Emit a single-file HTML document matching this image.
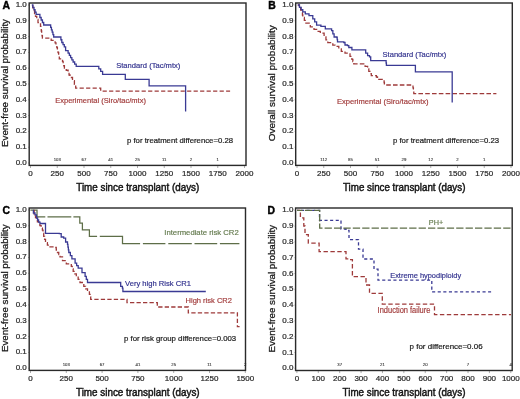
<!DOCTYPE html>
<html><head><meta charset="utf-8"><style>
html,body{margin:0;padding:0;background:#fff;}
body{width:520px;height:399px;overflow:hidden;}
svg{display:block;will-change:transform;font-family:"Liberation Sans", sans-serif;}
</style></head><body>
<svg width="520" height="399" viewBox="0 0 520 399">
<rect width="520" height="399" fill="#fff"/>
<text x="2.60" y="8.80" font-size="10.40" fill="#000" text-anchor="start" font-weight="bold" stroke="#000" stroke-width="0.40">A</text>
<text x="26.80" y="165.00" font-size="8.00" fill="#2a2a2a" text-anchor="end" font-weight="normal" stroke="#2a2a2a" stroke-width="0.22">0.0</text>
<line x1="28.00" y1="163.00" x2="29.20" y2="163.00" stroke="#999" stroke-width="0.7"/>
<text x="26.80" y="149.20" font-size="8.00" fill="#2a2a2a" text-anchor="end" font-weight="normal" stroke="#2a2a2a" stroke-width="0.22">0.1</text>
<line x1="28.00" y1="147.20" x2="29.20" y2="147.20" stroke="#999" stroke-width="0.7"/>
<text x="26.80" y="133.40" font-size="8.00" fill="#2a2a2a" text-anchor="end" font-weight="normal" stroke="#2a2a2a" stroke-width="0.22">0.2</text>
<line x1="28.00" y1="131.40" x2="29.20" y2="131.40" stroke="#999" stroke-width="0.7"/>
<text x="26.80" y="117.60" font-size="8.00" fill="#2a2a2a" text-anchor="end" font-weight="normal" stroke="#2a2a2a" stroke-width="0.22">0.3</text>
<line x1="28.00" y1="115.60" x2="29.20" y2="115.60" stroke="#999" stroke-width="0.7"/>
<text x="26.80" y="101.80" font-size="8.00" fill="#2a2a2a" text-anchor="end" font-weight="normal" stroke="#2a2a2a" stroke-width="0.22">0.4</text>
<line x1="28.00" y1="99.80" x2="29.20" y2="99.80" stroke="#999" stroke-width="0.7"/>
<text x="26.80" y="86.00" font-size="8.00" fill="#2a2a2a" text-anchor="end" font-weight="normal" stroke="#2a2a2a" stroke-width="0.22">0.5</text>
<line x1="28.00" y1="84.00" x2="29.20" y2="84.00" stroke="#999" stroke-width="0.7"/>
<text x="26.80" y="70.20" font-size="8.00" fill="#2a2a2a" text-anchor="end" font-weight="normal" stroke="#2a2a2a" stroke-width="0.22">0.6</text>
<line x1="28.00" y1="68.20" x2="29.20" y2="68.20" stroke="#999" stroke-width="0.7"/>
<text x="26.80" y="54.40" font-size="8.00" fill="#2a2a2a" text-anchor="end" font-weight="normal" stroke="#2a2a2a" stroke-width="0.22">0.7</text>
<line x1="28.00" y1="52.40" x2="29.20" y2="52.40" stroke="#999" stroke-width="0.7"/>
<text x="26.80" y="38.60" font-size="8.00" fill="#2a2a2a" text-anchor="end" font-weight="normal" stroke="#2a2a2a" stroke-width="0.22">0.8</text>
<line x1="28.00" y1="36.60" x2="29.20" y2="36.60" stroke="#999" stroke-width="0.7"/>
<text x="26.80" y="22.80" font-size="8.00" fill="#2a2a2a" text-anchor="end" font-weight="normal" stroke="#2a2a2a" stroke-width="0.22">0.9</text>
<line x1="28.00" y1="20.80" x2="29.20" y2="20.80" stroke="#999" stroke-width="0.7"/>
<text x="26.80" y="7.00" font-size="8.00" fill="#2a2a2a" text-anchor="end" font-weight="normal" stroke="#2a2a2a" stroke-width="0.22">1.0</text>
<line x1="28.00" y1="5.00" x2="29.20" y2="5.00" stroke="#999" stroke-width="0.7"/>
<text x="30.50" y="176.40" font-size="8.00" fill="#2a2a2a" text-anchor="middle" font-weight="normal" stroke="#2a2a2a" stroke-width="0.22">0</text>
<line x1="30.50" y1="165.40" x2="30.50" y2="168.00" stroke="#888" stroke-width="0.7"/>
<text x="57.25" y="176.40" font-size="8.00" fill="#2a2a2a" text-anchor="middle" font-weight="normal" stroke="#2a2a2a" stroke-width="0.22">250</text>
<line x1="57.25" y1="165.40" x2="57.25" y2="168.00" stroke="#888" stroke-width="0.7"/>
<text x="84.00" y="176.40" font-size="8.00" fill="#2a2a2a" text-anchor="middle" font-weight="normal" stroke="#2a2a2a" stroke-width="0.22">500</text>
<line x1="84.00" y1="165.40" x2="84.00" y2="168.00" stroke="#888" stroke-width="0.7"/>
<text x="110.75" y="176.40" font-size="8.00" fill="#2a2a2a" text-anchor="middle" font-weight="normal" stroke="#2a2a2a" stroke-width="0.22">750</text>
<line x1="110.75" y1="165.40" x2="110.75" y2="168.00" stroke="#888" stroke-width="0.7"/>
<text x="137.50" y="176.40" font-size="8.00" fill="#2a2a2a" text-anchor="middle" font-weight="normal" stroke="#2a2a2a" stroke-width="0.22">1000</text>
<line x1="137.50" y1="165.40" x2="137.50" y2="168.00" stroke="#888" stroke-width="0.7"/>
<text x="164.25" y="176.40" font-size="8.00" fill="#2a2a2a" text-anchor="middle" font-weight="normal" stroke="#2a2a2a" stroke-width="0.22">1250</text>
<line x1="164.25" y1="165.40" x2="164.25" y2="168.00" stroke="#888" stroke-width="0.7"/>
<text x="191.00" y="176.40" font-size="8.00" fill="#2a2a2a" text-anchor="middle" font-weight="normal" stroke="#2a2a2a" stroke-width="0.22">1500</text>
<line x1="191.00" y1="165.40" x2="191.00" y2="168.00" stroke="#888" stroke-width="0.7"/>
<text x="217.75" y="176.40" font-size="8.00" fill="#2a2a2a" text-anchor="middle" font-weight="normal" stroke="#2a2a2a" stroke-width="0.22">1750</text>
<line x1="217.75" y1="165.40" x2="217.75" y2="168.00" stroke="#888" stroke-width="0.7"/>
<text x="244.50" y="176.40" font-size="8.00" fill="#2a2a2a" text-anchor="middle" font-weight="normal" stroke="#2a2a2a" stroke-width="0.22">2000</text>
<line x1="244.50" y1="165.40" x2="244.50" y2="168.00" stroke="#888" stroke-width="0.7"/>
<text x="57.25" y="160.50" font-size="4.30" fill="#3a3a3a" text-anchor="middle" font-weight="normal" stroke="#3a3a3a" stroke-width="0.12">103</text>
<text x="84.00" y="160.50" font-size="4.30" fill="#3a3a3a" text-anchor="middle" font-weight="normal" stroke="#3a3a3a" stroke-width="0.12">67</text>
<text x="110.75" y="160.50" font-size="4.30" fill="#3a3a3a" text-anchor="middle" font-weight="normal" stroke="#3a3a3a" stroke-width="0.12">41</text>
<text x="137.50" y="160.50" font-size="4.30" fill="#3a3a3a" text-anchor="middle" font-weight="normal" stroke="#3a3a3a" stroke-width="0.12">25</text>
<text x="164.25" y="160.50" font-size="4.30" fill="#3a3a3a" text-anchor="middle" font-weight="normal" stroke="#3a3a3a" stroke-width="0.12">11</text>
<text x="191.00" y="160.50" font-size="4.30" fill="#3a3a3a" text-anchor="middle" font-weight="normal" stroke="#3a3a3a" stroke-width="0.12">2</text>
<text x="217.75" y="160.50" font-size="4.30" fill="#3a3a3a" text-anchor="middle" font-weight="normal" stroke="#3a3a3a" stroke-width="0.12">1</text>
<path d="M31.80 5.00L32.73 5.00L32.73 7.83L33.65 7.83L33.65 10.65L34.58 10.65L34.58 13.48L35.50 13.48L35.50 16.30L36.75 16.30L36.75 19.45L38.00 19.45L38.00 22.60L40.50 22.60L40.50 26.30L40.88 26.30L40.88 28.66L41.26 28.66L41.26 31.02L41.64 31.02L41.64 33.38L42.02 33.38L42.02 35.74L42.40 35.74L42.40 38.10L50.00 38.10L51.20 38.10L51.20 40.30L54.30 40.30L54.30 40.70L55.13 40.70L55.13 42.97L55.97 42.97L55.97 45.23L56.80 45.23L56.80 47.50L57.40 47.50L57.40 50.00L58.00 50.00L58.00 52.50L58.65 52.50L58.65 55.65L59.30 55.65L59.30 58.80L62.50 58.80L62.50 61.30L63.13 61.30L63.13 63.53L63.77 63.53L63.77 65.77L64.40 65.77L64.40 68.00L66.25 68.00L66.25 70.25L68.10 70.25L68.10 72.50L69.05 72.50L69.05 75.00L70.00 75.00L70.00 77.50L72.50 77.50L72.50 80.70L74.40 80.70L74.40 84.40L75.70 84.40L75.70 88.20L98.80 88.20L100.70 88.20L100.70 91.20L230.10 91.20" fill="none" stroke="#9e3a3a" stroke-width="1.30" stroke-dasharray="4.2 2.3" stroke-dashoffset="5.50"/>
<path d="M31.80 5.00L32.88 5.00L32.88 7.35L33.95 7.35L33.95 9.70L35.02 9.70L35.02 12.05L36.10 12.05L36.10 14.40L39.90 14.40L39.90 17.50L41.17 17.50L41.17 20.00L42.43 20.00L42.43 22.50L43.70 22.50L43.70 25.00L49.90 25.00L50.66 25.00L50.66 27.40L51.42 27.40L51.42 29.80L52.18 29.80L52.18 32.20L52.94 32.20L52.94 34.60L53.70 34.60L53.70 37.00L60.00 37.00L60.90 37.00L60.90 39.75L61.80 39.75L61.80 42.50L63.05 42.50L63.05 44.70L64.30 44.70L64.30 46.90L65.60 46.90L65.60 50.70L68.10 50.70L68.10 53.20L69.35 53.20L69.35 55.40L70.60 55.40L70.60 57.60L71.85 57.60L71.85 59.80L73.10 59.80L73.10 62.00L74.65 62.00L74.65 64.15L76.20 64.15L76.20 66.30L97.60 66.30L98.80 66.30L98.80 68.80L100.70 68.80L100.70 71.30L102.60 71.30L102.60 74.40L125.30 74.40L125.30 79.40L149.10 79.40L149.10 85.80L185.60 85.80L185.60 111.40" fill="none" stroke="#3a3a94" stroke-width="1.30"/>
<rect x="29.20" y="3.00" width="216.80" height="162.40" fill="none" stroke="#2a2a2a" stroke-width="1.42"/>
<text x="116.20" y="68.10" font-size="7.90" fill="#32328e" text-anchor="start" font-weight="normal" textLength="64.20" lengthAdjust="spacingAndGlyphs" stroke="#32328e" stroke-width="0.18">Standard (Tac/mtx)</text>
<text x="55.20" y="102.60" font-size="7.90" fill="#a23c3c" text-anchor="start" font-weight="normal" textLength="90.80" lengthAdjust="spacingAndGlyphs" stroke="#a23c3c" stroke-width="0.18">Experimental (Siro/tac/mtx)</text>
<text x="127.00" y="142.70" font-size="7.70" fill="#1a1a1a" text-anchor="start" font-weight="normal" textLength="106.00" lengthAdjust="spacingAndGlyphs" stroke="#1a1a1a" stroke-width="0.20">p for treatment difference=0.28</text>
<text x="76.30" y="191.10" font-size="10.20" fill="#141414" text-anchor="start" font-weight="normal" textLength="123.00" lengthAdjust="spacingAndGlyphs" stroke="#141414" stroke-width="0.45">Time since transplant (days)</text>
<text transform="translate(8.40 147.00) rotate(-90)" font-size="9.9" fill="#1a1a1a" stroke="#1a1a1a" stroke-width="0.28" textLength="128.00" lengthAdjust="spacingAndGlyphs">Event-free survival probability</text>
<text x="268.20" y="8.80" font-size="10.40" fill="#000" text-anchor="start" font-weight="bold" stroke="#000" stroke-width="0.40">B</text>
<text x="293.40" y="165.00" font-size="8.00" fill="#2a2a2a" text-anchor="end" font-weight="normal" stroke="#2a2a2a" stroke-width="0.22">0.0</text>
<line x1="294.50" y1="163.00" x2="295.70" y2="163.00" stroke="#999" stroke-width="0.7"/>
<text x="293.40" y="149.20" font-size="8.00" fill="#2a2a2a" text-anchor="end" font-weight="normal" stroke="#2a2a2a" stroke-width="0.22">0.1</text>
<line x1="294.50" y1="147.20" x2="295.70" y2="147.20" stroke="#999" stroke-width="0.7"/>
<text x="293.40" y="133.40" font-size="8.00" fill="#2a2a2a" text-anchor="end" font-weight="normal" stroke="#2a2a2a" stroke-width="0.22">0.2</text>
<line x1="294.50" y1="131.40" x2="295.70" y2="131.40" stroke="#999" stroke-width="0.7"/>
<text x="293.40" y="117.60" font-size="8.00" fill="#2a2a2a" text-anchor="end" font-weight="normal" stroke="#2a2a2a" stroke-width="0.22">0.3</text>
<line x1="294.50" y1="115.60" x2="295.70" y2="115.60" stroke="#999" stroke-width="0.7"/>
<text x="293.40" y="101.80" font-size="8.00" fill="#2a2a2a" text-anchor="end" font-weight="normal" stroke="#2a2a2a" stroke-width="0.22">0.4</text>
<line x1="294.50" y1="99.80" x2="295.70" y2="99.80" stroke="#999" stroke-width="0.7"/>
<text x="293.40" y="86.00" font-size="8.00" fill="#2a2a2a" text-anchor="end" font-weight="normal" stroke="#2a2a2a" stroke-width="0.22">0.5</text>
<line x1="294.50" y1="84.00" x2="295.70" y2="84.00" stroke="#999" stroke-width="0.7"/>
<text x="293.40" y="70.20" font-size="8.00" fill="#2a2a2a" text-anchor="end" font-weight="normal" stroke="#2a2a2a" stroke-width="0.22">0.6</text>
<line x1="294.50" y1="68.20" x2="295.70" y2="68.20" stroke="#999" stroke-width="0.7"/>
<text x="293.40" y="54.40" font-size="8.00" fill="#2a2a2a" text-anchor="end" font-weight="normal" stroke="#2a2a2a" stroke-width="0.22">0.7</text>
<line x1="294.50" y1="52.40" x2="295.70" y2="52.40" stroke="#999" stroke-width="0.7"/>
<text x="293.40" y="38.60" font-size="8.00" fill="#2a2a2a" text-anchor="end" font-weight="normal" stroke="#2a2a2a" stroke-width="0.22">0.8</text>
<line x1="294.50" y1="36.60" x2="295.70" y2="36.60" stroke="#999" stroke-width="0.7"/>
<text x="293.40" y="22.80" font-size="8.00" fill="#2a2a2a" text-anchor="end" font-weight="normal" stroke="#2a2a2a" stroke-width="0.22">0.9</text>
<line x1="294.50" y1="20.80" x2="295.70" y2="20.80" stroke="#999" stroke-width="0.7"/>
<text x="293.40" y="7.00" font-size="8.00" fill="#2a2a2a" text-anchor="end" font-weight="normal" stroke="#2a2a2a" stroke-width="0.22">1.0</text>
<line x1="294.50" y1="5.00" x2="295.70" y2="5.00" stroke="#999" stroke-width="0.7"/>
<text x="297.00" y="176.40" font-size="8.00" fill="#2a2a2a" text-anchor="middle" font-weight="normal" stroke="#2a2a2a" stroke-width="0.22">0</text>
<line x1="297.00" y1="165.40" x2="297.00" y2="168.00" stroke="#888" stroke-width="0.7"/>
<text x="323.75" y="176.40" font-size="8.00" fill="#2a2a2a" text-anchor="middle" font-weight="normal" stroke="#2a2a2a" stroke-width="0.22">250</text>
<line x1="323.75" y1="165.40" x2="323.75" y2="168.00" stroke="#888" stroke-width="0.7"/>
<text x="350.50" y="176.40" font-size="8.00" fill="#2a2a2a" text-anchor="middle" font-weight="normal" stroke="#2a2a2a" stroke-width="0.22">500</text>
<line x1="350.50" y1="165.40" x2="350.50" y2="168.00" stroke="#888" stroke-width="0.7"/>
<text x="377.25" y="176.40" font-size="8.00" fill="#2a2a2a" text-anchor="middle" font-weight="normal" stroke="#2a2a2a" stroke-width="0.22">750</text>
<line x1="377.25" y1="165.40" x2="377.25" y2="168.00" stroke="#888" stroke-width="0.7"/>
<text x="404.00" y="176.40" font-size="8.00" fill="#2a2a2a" text-anchor="middle" font-weight="normal" stroke="#2a2a2a" stroke-width="0.22">1000</text>
<line x1="404.00" y1="165.40" x2="404.00" y2="168.00" stroke="#888" stroke-width="0.7"/>
<text x="430.75" y="176.40" font-size="8.00" fill="#2a2a2a" text-anchor="middle" font-weight="normal" stroke="#2a2a2a" stroke-width="0.22">1250</text>
<line x1="430.75" y1="165.40" x2="430.75" y2="168.00" stroke="#888" stroke-width="0.7"/>
<text x="457.50" y="176.40" font-size="8.00" fill="#2a2a2a" text-anchor="middle" font-weight="normal" stroke="#2a2a2a" stroke-width="0.22">1500</text>
<line x1="457.50" y1="165.40" x2="457.50" y2="168.00" stroke="#888" stroke-width="0.7"/>
<text x="484.25" y="176.40" font-size="8.00" fill="#2a2a2a" text-anchor="middle" font-weight="normal" stroke="#2a2a2a" stroke-width="0.22">1750</text>
<line x1="484.25" y1="165.40" x2="484.25" y2="168.00" stroke="#888" stroke-width="0.7"/>
<text x="511.00" y="176.40" font-size="8.00" fill="#2a2a2a" text-anchor="middle" font-weight="normal" stroke="#2a2a2a" stroke-width="0.22">2000</text>
<line x1="511.00" y1="165.40" x2="511.00" y2="168.00" stroke="#888" stroke-width="0.7"/>
<text x="323.75" y="160.50" font-size="4.30" fill="#3a3a3a" text-anchor="middle" font-weight="normal" stroke="#3a3a3a" stroke-width="0.12">112</text>
<text x="350.50" y="160.50" font-size="4.30" fill="#3a3a3a" text-anchor="middle" font-weight="normal" stroke="#3a3a3a" stroke-width="0.12">85</text>
<text x="377.25" y="160.50" font-size="4.30" fill="#3a3a3a" text-anchor="middle" font-weight="normal" stroke="#3a3a3a" stroke-width="0.12">51</text>
<text x="404.00" y="160.50" font-size="4.30" fill="#3a3a3a" text-anchor="middle" font-weight="normal" stroke="#3a3a3a" stroke-width="0.12">29</text>
<text x="430.75" y="160.50" font-size="4.30" fill="#3a3a3a" text-anchor="middle" font-weight="normal" stroke="#3a3a3a" stroke-width="0.12">12</text>
<text x="457.50" y="160.50" font-size="4.30" fill="#3a3a3a" text-anchor="middle" font-weight="normal" stroke="#3a3a3a" stroke-width="0.12">2</text>
<text x="484.25" y="160.50" font-size="4.30" fill="#3a3a3a" text-anchor="middle" font-weight="normal" stroke="#3a3a3a" stroke-width="0.12">1</text>
<path d="M297.80 5.00L299.23 5.00L299.23 7.50L300.67 7.50L300.67 10.00L302.10 10.00L302.10 12.50L302.45 12.50L302.45 15.00L302.80 15.00L302.80 17.50L304.35 17.50L304.35 20.35L305.90 20.35L305.90 23.20L310.30 23.20L310.30 26.90L314.00 26.90L314.00 29.40L316.60 29.40L316.60 31.30L320.30 31.30L320.30 33.20L324.10 33.20L324.10 37.00L325.95 37.00L325.95 39.80L327.80 39.80L327.80 42.60L332.80 42.60L332.80 45.10L335.00 45.10L335.00 46.30L338.80 46.30L338.80 48.80L341.30 48.80L341.30 51.30L345.00 51.30L345.00 53.20L348.80 53.20L348.80 53.80L350.00 53.80L350.00 56.30L351.90 56.30L351.90 59.40L352.85 59.40L352.85 61.60L353.80 61.60L353.80 63.80L363.80 63.80L365.10 63.80L365.10 66.30L367.60 66.30L367.60 68.80L368.80 68.80L368.80 71.40L370.05 71.40L370.05 73.55L371.30 73.55L371.30 75.70L376.40 75.70L376.40 77.00L377.50 77.00L377.50 79.40L383.80 79.40L383.80 80.00L384.10 80.00L384.10 82.50L384.40 82.50L384.40 85.00L412.60 85.00L413.00 85.00L413.00 87.87L413.40 87.87L413.40 90.73L413.80 90.73L413.80 93.60L496.40 93.60" fill="none" stroke="#9e3a3a" stroke-width="1.30" stroke-dasharray="4.6 2.2" stroke-dashoffset="1.60"/>
<path d="M297.80 5.00L299.47 5.00L299.47 7.30L301.13 7.30L301.13 9.60L302.80 9.60L302.80 11.90L305.30 11.90L305.30 13.80L309.00 13.80L309.00 15.70L312.80 15.70L312.80 18.80L314.70 18.80L314.70 21.95L316.60 21.95L316.60 25.10L320.90 25.10L320.90 26.30L325.30 26.30L325.30 28.80L331.60 28.80L331.60 30.70L332.85 30.70L332.85 33.85L334.10 33.85L334.10 37.00L336.90 37.00L336.90 37.50L337.20 37.50L337.20 39.70L337.50 39.70L337.50 41.90L343.80 41.90L343.80 42.50L345.00 42.50L345.00 45.00L347.50 45.00L347.50 45.70L348.80 45.70L348.80 47.50L351.30 47.50L351.90 47.50L351.90 49.80L365.10 49.80L365.70 49.80L365.70 53.20L367.60 53.20L367.60 55.70L369.50 55.70L369.50 56.90L370.70 56.90L370.70 60.70L385.80 60.70L386.10 60.70L386.10 63.00L386.40 63.00L386.40 65.30L415.40 65.30L415.40 71.90L452.20 71.90L452.20 102.40" fill="none" stroke="#3a3a94" stroke-width="1.30"/>
<rect x="295.70" y="3.00" width="216.60" height="162.40" fill="none" stroke="#2a2a2a" stroke-width="1.42"/>
<text x="382.60" y="56.60" font-size="7.90" fill="#32328e" text-anchor="start" font-weight="normal" textLength="63.60" lengthAdjust="spacingAndGlyphs" stroke="#32328e" stroke-width="0.18">Standard (Tac/mtx)</text>
<text x="337.00" y="103.50" font-size="7.90" fill="#a23c3c" text-anchor="start" font-weight="normal" textLength="91.60" lengthAdjust="spacingAndGlyphs" stroke="#a23c3c" stroke-width="0.18">Experimental (Siro/tac/mtx)</text>
<text x="393.00" y="142.70" font-size="7.70" fill="#1a1a1a" text-anchor="start" font-weight="normal" textLength="106.00" lengthAdjust="spacingAndGlyphs" stroke="#1a1a1a" stroke-width="0.20">p for treatment difference=0.23</text>
<text x="343.00" y="191.10" font-size="10.20" fill="#141414" text-anchor="start" font-weight="normal" textLength="122.40" lengthAdjust="spacingAndGlyphs" stroke="#141414" stroke-width="0.45">Time since transplant (days)</text>
<text transform="translate(274.60 141.20) rotate(-90)" font-size="9.9" fill="#1a1a1a" stroke="#1a1a1a" stroke-width="0.28" textLength="116.00" lengthAdjust="spacingAndGlyphs">Overall survival probability</text>
<text x="2.60" y="213.60" font-size="10.40" fill="#000" text-anchor="start" font-weight="bold" stroke="#000" stroke-width="0.40">C</text>
<text x="26.80" y="370.20" font-size="8.00" fill="#2a2a2a" text-anchor="end" font-weight="normal" stroke="#2a2a2a" stroke-width="0.22">0.0</text>
<line x1="28.00" y1="368.20" x2="29.20" y2="368.20" stroke="#999" stroke-width="0.7"/>
<text x="26.80" y="354.38" font-size="8.00" fill="#2a2a2a" text-anchor="end" font-weight="normal" stroke="#2a2a2a" stroke-width="0.22">0.1</text>
<line x1="28.00" y1="352.38" x2="29.20" y2="352.38" stroke="#999" stroke-width="0.7"/>
<text x="26.80" y="338.56" font-size="8.00" fill="#2a2a2a" text-anchor="end" font-weight="normal" stroke="#2a2a2a" stroke-width="0.22">0.2</text>
<line x1="28.00" y1="336.56" x2="29.20" y2="336.56" stroke="#999" stroke-width="0.7"/>
<text x="26.80" y="322.74" font-size="8.00" fill="#2a2a2a" text-anchor="end" font-weight="normal" stroke="#2a2a2a" stroke-width="0.22">0.3</text>
<line x1="28.00" y1="320.74" x2="29.20" y2="320.74" stroke="#999" stroke-width="0.7"/>
<text x="26.80" y="306.92" font-size="8.00" fill="#2a2a2a" text-anchor="end" font-weight="normal" stroke="#2a2a2a" stroke-width="0.22">0.4</text>
<line x1="28.00" y1="304.92" x2="29.20" y2="304.92" stroke="#999" stroke-width="0.7"/>
<text x="26.80" y="291.10" font-size="8.00" fill="#2a2a2a" text-anchor="end" font-weight="normal" stroke="#2a2a2a" stroke-width="0.22">0.5</text>
<line x1="28.00" y1="289.10" x2="29.20" y2="289.10" stroke="#999" stroke-width="0.7"/>
<text x="26.80" y="275.28" font-size="8.00" fill="#2a2a2a" text-anchor="end" font-weight="normal" stroke="#2a2a2a" stroke-width="0.22">0.6</text>
<line x1="28.00" y1="273.28" x2="29.20" y2="273.28" stroke="#999" stroke-width="0.7"/>
<text x="26.80" y="259.46" font-size="8.00" fill="#2a2a2a" text-anchor="end" font-weight="normal" stroke="#2a2a2a" stroke-width="0.22">0.7</text>
<line x1="28.00" y1="257.46" x2="29.20" y2="257.46" stroke="#999" stroke-width="0.7"/>
<text x="26.80" y="243.64" font-size="8.00" fill="#2a2a2a" text-anchor="end" font-weight="normal" stroke="#2a2a2a" stroke-width="0.22">0.8</text>
<line x1="28.00" y1="241.64" x2="29.20" y2="241.64" stroke="#999" stroke-width="0.7"/>
<text x="26.80" y="227.82" font-size="8.00" fill="#2a2a2a" text-anchor="end" font-weight="normal" stroke="#2a2a2a" stroke-width="0.22">0.9</text>
<line x1="28.00" y1="225.82" x2="29.20" y2="225.82" stroke="#999" stroke-width="0.7"/>
<text x="26.80" y="212.00" font-size="8.00" fill="#2a2a2a" text-anchor="end" font-weight="normal" stroke="#2a2a2a" stroke-width="0.22">1.0</text>
<line x1="28.00" y1="210.00" x2="29.20" y2="210.00" stroke="#999" stroke-width="0.7"/>
<text x="30.50" y="381.40" font-size="8.00" fill="#2a2a2a" text-anchor="middle" font-weight="normal" stroke="#2a2a2a" stroke-width="0.22">0</text>
<line x1="30.50" y1="370.40" x2="30.50" y2="373.00" stroke="#888" stroke-width="0.7"/>
<text x="66.30" y="381.40" font-size="8.00" fill="#2a2a2a" text-anchor="middle" font-weight="normal" stroke="#2a2a2a" stroke-width="0.22">250</text>
<line x1="66.30" y1="370.40" x2="66.30" y2="373.00" stroke="#888" stroke-width="0.7"/>
<text x="102.10" y="381.40" font-size="8.00" fill="#2a2a2a" text-anchor="middle" font-weight="normal" stroke="#2a2a2a" stroke-width="0.22">500</text>
<line x1="102.10" y1="370.40" x2="102.10" y2="373.00" stroke="#888" stroke-width="0.7"/>
<text x="137.90" y="381.40" font-size="8.00" fill="#2a2a2a" text-anchor="middle" font-weight="normal" stroke="#2a2a2a" stroke-width="0.22">750</text>
<line x1="137.90" y1="370.40" x2="137.90" y2="373.00" stroke="#888" stroke-width="0.7"/>
<text x="173.70" y="381.40" font-size="8.00" fill="#2a2a2a" text-anchor="middle" font-weight="normal" stroke="#2a2a2a" stroke-width="0.22">1000</text>
<line x1="173.70" y1="370.40" x2="173.70" y2="373.00" stroke="#888" stroke-width="0.7"/>
<text x="209.50" y="381.40" font-size="8.00" fill="#2a2a2a" text-anchor="middle" font-weight="normal" stroke="#2a2a2a" stroke-width="0.22">1250</text>
<line x1="209.50" y1="370.40" x2="209.50" y2="373.00" stroke="#888" stroke-width="0.7"/>
<text x="245.30" y="381.40" font-size="8.00" fill="#2a2a2a" text-anchor="middle" font-weight="normal" stroke="#2a2a2a" stroke-width="0.22">1500</text>
<line x1="245.30" y1="370.40" x2="245.30" y2="373.00" stroke="#888" stroke-width="0.7"/>
<text x="66.30" y="365.80" font-size="4.30" fill="#3a3a3a" text-anchor="middle" font-weight="normal" stroke="#3a3a3a" stroke-width="0.12">103</text>
<text x="102.10" y="365.80" font-size="4.30" fill="#3a3a3a" text-anchor="middle" font-weight="normal" stroke="#3a3a3a" stroke-width="0.12">67</text>
<text x="137.90" y="365.80" font-size="4.30" fill="#3a3a3a" text-anchor="middle" font-weight="normal" stroke="#3a3a3a" stroke-width="0.12">41</text>
<text x="173.70" y="365.80" font-size="4.30" fill="#3a3a3a" text-anchor="middle" font-weight="normal" stroke="#3a3a3a" stroke-width="0.12">25</text>
<text x="209.50" y="365.80" font-size="4.30" fill="#3a3a3a" text-anchor="middle" font-weight="normal" stroke="#3a3a3a" stroke-width="0.12">11</text>
<text x="245.30" y="365.80" font-size="4.30" fill="#3a3a3a" text-anchor="middle" font-weight="normal" stroke="#3a3a3a" stroke-width="0.12">2</text>
<path d="M30.40 210.20L37.00 210.20L37.00 216.80L45.30 216.80M47.50 216.80L71.30 216.80M73.40 216.80L79.80 216.80L79.80 223.20L82.40 223.20L82.40 229.80L89.40 229.80L89.40 236.40L97.10 236.40M99.80 236.40L122.50 236.40L122.50 243.60L140.10 243.60M142.90 243.60L165.40 243.60M168.30 243.60L191.80 243.60M194.50 243.60L217.20 243.60M219.90 243.60L239.40 243.60" fill="none" stroke="#5e6e48" stroke-width="1.25"/>
<path d="M32.80 210.50L34.15 210.50L34.15 214.00L35.50 214.00L35.50 217.50L36.45 217.50L36.45 219.70L37.40 219.70L37.40 221.90L39.90 221.90L39.90 225.70L41.15 225.70L41.15 227.90L42.40 227.90L42.40 230.10L43.05 230.10L43.05 233.20L43.70 233.20L43.70 236.30L44.60 236.30L44.60 239.45L45.50 239.45L45.50 242.60L47.40 242.60L47.40 245.10L50.00 245.10L50.00 246.90L55.00 246.90L55.00 247.50L56.25 247.50L56.25 250.00L57.50 250.00L57.50 252.50L58.75 252.50L58.75 254.70L60.00 254.70L60.00 256.90L62.50 256.90L62.50 260.70L66.30 260.70L66.30 263.80L71.30 263.80L71.30 266.30L72.25 266.30L72.25 268.80L73.20 268.80L73.20 271.30L74.75 271.30L74.75 273.80L76.30 273.80L76.30 276.30L78.15 276.30L78.15 279.40L80.00 279.40L80.00 282.50L83.80 282.50L83.80 286.30L85.65 286.30L85.65 288.80L87.50 288.80L87.50 291.30L89.40 291.30L89.40 294.40L90.05 294.40L90.05 296.90L90.70 296.90L90.70 299.40L125.10 299.40L127.00 299.40L127.00 302.70L157.30 302.70L157.30 307.00L188.30 307.00L188.30 312.90L237.40 312.90L237.40 326.60L239.60 326.60" fill="none" stroke="#9e3a3a" stroke-width="1.30" stroke-dasharray="4.3 2.2" stroke-dashoffset="5.60"/>
<path d="M32.80 210.50L33.40 210.50L33.40 213.00L35.00 213.00L35.00 214.80L36.50 214.80L36.50 218.00L37.60 218.00L37.60 220.00L38.60 220.00L38.60 222.20L40.00 222.20L40.00 223.50L45.50 223.50L45.50 233.40L59.30 233.40L59.30 233.60L61.20 233.60L61.20 237.00L63.70 237.00L63.70 238.20L65.60 238.20L65.60 242.00L67.50 242.00L67.50 244.40L67.93 244.40L67.93 247.10L68.37 247.10L68.37 249.80L68.80 249.80L68.80 252.50L70.35 252.50L70.35 255.65L71.90 255.65L71.90 258.80L75.10 258.80L75.10 263.20L76.65 263.20L76.65 265.70L78.20 265.70L78.20 268.20L82.00 268.20L82.00 272.60L85.10 272.60L85.10 276.30L86.30 276.30L86.30 279.40L87.50 279.40L87.50 282.50L120.10 282.50L120.70 282.50L120.70 286.30L122.40 286.30L122.40 288.20L122.90 288.20L122.90 291.50L205.80 291.50" fill="none" stroke="#3a3a94" stroke-width="1.30"/>
<rect x="29.20" y="208.00" width="216.30" height="162.40" fill="none" stroke="#2a2a2a" stroke-width="1.42"/>
<text x="164.30" y="234.90" font-size="7.90" fill="#667c50" text-anchor="start" font-weight="normal" textLength="74.40" lengthAdjust="spacingAndGlyphs" stroke="#667c50" stroke-width="0.18">Intermediate risk CR2</text>
<text x="125.00" y="285.50" font-size="7.90" fill="#32328e" text-anchor="start" font-weight="normal" textLength="66.00" lengthAdjust="spacingAndGlyphs" stroke="#32328e" stroke-width="0.18">Very high Risk CR1</text>
<text x="185.60" y="303.20" font-size="7.90" fill="#a23c3c" text-anchor="start" font-weight="normal" textLength="46.30" lengthAdjust="spacingAndGlyphs" stroke="#a23c3c" stroke-width="0.18">High risk CR2</text>
<text x="124.00" y="341.30" font-size="7.70" fill="#1a1a1a" text-anchor="start" font-weight="normal" textLength="112.20" lengthAdjust="spacingAndGlyphs" stroke="#1a1a1a" stroke-width="0.20">p for risk group difference=0.003</text>
<text x="76.00" y="395.90" font-size="10.20" fill="#141414" text-anchor="start" font-weight="normal" textLength="123.60" lengthAdjust="spacingAndGlyphs" stroke="#141414" stroke-width="0.45">Time since transplant (days)</text>
<text transform="translate(7.90 352.00) rotate(-90)" font-size="9.9" fill="#1a1a1a" stroke="#1a1a1a" stroke-width="0.28" textLength="127.60" lengthAdjust="spacingAndGlyphs">Event-free survival probability</text>
<text x="267.40" y="213.60" font-size="10.40" fill="#000" text-anchor="start" font-weight="bold" stroke="#000" stroke-width="0.40">D</text>
<text x="293.40" y="370.30" font-size="8.00" fill="#2a2a2a" text-anchor="end" font-weight="normal" stroke="#2a2a2a" stroke-width="0.22">0.0</text>
<line x1="294.40" y1="368.30" x2="295.60" y2="368.30" stroke="#999" stroke-width="0.7"/>
<text x="293.40" y="354.50" font-size="8.00" fill="#2a2a2a" text-anchor="end" font-weight="normal" stroke="#2a2a2a" stroke-width="0.22">0.1</text>
<line x1="294.40" y1="352.50" x2="295.60" y2="352.50" stroke="#999" stroke-width="0.7"/>
<text x="293.40" y="338.70" font-size="8.00" fill="#2a2a2a" text-anchor="end" font-weight="normal" stroke="#2a2a2a" stroke-width="0.22">0.2</text>
<line x1="294.40" y1="336.70" x2="295.60" y2="336.70" stroke="#999" stroke-width="0.7"/>
<text x="293.40" y="322.90" font-size="8.00" fill="#2a2a2a" text-anchor="end" font-weight="normal" stroke="#2a2a2a" stroke-width="0.22">0.3</text>
<line x1="294.40" y1="320.90" x2="295.60" y2="320.90" stroke="#999" stroke-width="0.7"/>
<text x="293.40" y="307.10" font-size="8.00" fill="#2a2a2a" text-anchor="end" font-weight="normal" stroke="#2a2a2a" stroke-width="0.22">0.4</text>
<line x1="294.40" y1="305.10" x2="295.60" y2="305.10" stroke="#999" stroke-width="0.7"/>
<text x="293.40" y="291.30" font-size="8.00" fill="#2a2a2a" text-anchor="end" font-weight="normal" stroke="#2a2a2a" stroke-width="0.22">0.5</text>
<line x1="294.40" y1="289.30" x2="295.60" y2="289.30" stroke="#999" stroke-width="0.7"/>
<text x="293.40" y="275.50" font-size="8.00" fill="#2a2a2a" text-anchor="end" font-weight="normal" stroke="#2a2a2a" stroke-width="0.22">0.6</text>
<line x1="294.40" y1="273.50" x2="295.60" y2="273.50" stroke="#999" stroke-width="0.7"/>
<text x="293.40" y="259.70" font-size="8.00" fill="#2a2a2a" text-anchor="end" font-weight="normal" stroke="#2a2a2a" stroke-width="0.22">0.7</text>
<line x1="294.40" y1="257.70" x2="295.60" y2="257.70" stroke="#999" stroke-width="0.7"/>
<text x="293.40" y="243.90" font-size="8.00" fill="#2a2a2a" text-anchor="end" font-weight="normal" stroke="#2a2a2a" stroke-width="0.22">0.8</text>
<line x1="294.40" y1="241.90" x2="295.60" y2="241.90" stroke="#999" stroke-width="0.7"/>
<text x="293.40" y="228.10" font-size="8.00" fill="#2a2a2a" text-anchor="end" font-weight="normal" stroke="#2a2a2a" stroke-width="0.22">0.9</text>
<line x1="294.40" y1="226.10" x2="295.60" y2="226.10" stroke="#999" stroke-width="0.7"/>
<text x="293.40" y="212.30" font-size="8.00" fill="#2a2a2a" text-anchor="end" font-weight="normal" stroke="#2a2a2a" stroke-width="0.22">1.0</text>
<line x1="294.40" y1="210.30" x2="295.60" y2="210.30" stroke="#999" stroke-width="0.7"/>
<text x="296.90" y="381.40" font-size="8.00" fill="#2a2a2a" text-anchor="middle" font-weight="normal" stroke="#2a2a2a" stroke-width="0.22">0</text>
<line x1="296.90" y1="370.50" x2="296.90" y2="373.10" stroke="#888" stroke-width="0.7"/>
<text x="318.29" y="381.40" font-size="8.00" fill="#2a2a2a" text-anchor="middle" font-weight="normal" stroke="#2a2a2a" stroke-width="0.22">100</text>
<line x1="318.29" y1="370.50" x2="318.29" y2="373.10" stroke="#888" stroke-width="0.7"/>
<text x="339.68" y="381.40" font-size="8.00" fill="#2a2a2a" text-anchor="middle" font-weight="normal" stroke="#2a2a2a" stroke-width="0.22">200</text>
<line x1="339.68" y1="370.50" x2="339.68" y2="373.10" stroke="#888" stroke-width="0.7"/>
<text x="361.07" y="381.40" font-size="8.00" fill="#2a2a2a" text-anchor="middle" font-weight="normal" stroke="#2a2a2a" stroke-width="0.22">300</text>
<line x1="361.07" y1="370.50" x2="361.07" y2="373.10" stroke="#888" stroke-width="0.7"/>
<text x="382.46" y="381.40" font-size="8.00" fill="#2a2a2a" text-anchor="middle" font-weight="normal" stroke="#2a2a2a" stroke-width="0.22">400</text>
<line x1="382.46" y1="370.50" x2="382.46" y2="373.10" stroke="#888" stroke-width="0.7"/>
<text x="403.85" y="381.40" font-size="8.00" fill="#2a2a2a" text-anchor="middle" font-weight="normal" stroke="#2a2a2a" stroke-width="0.22">500</text>
<line x1="403.85" y1="370.50" x2="403.85" y2="373.10" stroke="#888" stroke-width="0.7"/>
<text x="425.24" y="381.40" font-size="8.00" fill="#2a2a2a" text-anchor="middle" font-weight="normal" stroke="#2a2a2a" stroke-width="0.22">600</text>
<line x1="425.24" y1="370.50" x2="425.24" y2="373.10" stroke="#888" stroke-width="0.7"/>
<text x="446.63" y="381.40" font-size="8.00" fill="#2a2a2a" text-anchor="middle" font-weight="normal" stroke="#2a2a2a" stroke-width="0.22">700</text>
<line x1="446.63" y1="370.50" x2="446.63" y2="373.10" stroke="#888" stroke-width="0.7"/>
<text x="468.02" y="381.40" font-size="8.00" fill="#2a2a2a" text-anchor="middle" font-weight="normal" stroke="#2a2a2a" stroke-width="0.22">800</text>
<line x1="468.02" y1="370.50" x2="468.02" y2="373.10" stroke="#888" stroke-width="0.7"/>
<text x="489.41" y="381.40" font-size="8.00" fill="#2a2a2a" text-anchor="middle" font-weight="normal" stroke="#2a2a2a" stroke-width="0.22">900</text>
<line x1="489.41" y1="370.50" x2="489.41" y2="373.10" stroke="#888" stroke-width="0.7"/>
<text x="510.80" y="381.40" font-size="8.00" fill="#2a2a2a" text-anchor="middle" font-weight="normal" stroke="#2a2a2a" stroke-width="0.22">1000</text>
<line x1="510.80" y1="370.50" x2="510.80" y2="373.10" stroke="#888" stroke-width="0.7"/>
<text x="339.68" y="365.80" font-size="4.30" fill="#3a3a3a" text-anchor="middle" font-weight="normal" stroke="#3a3a3a" stroke-width="0.12">37</text>
<text x="382.46" y="365.80" font-size="4.30" fill="#3a3a3a" text-anchor="middle" font-weight="normal" stroke="#3a3a3a" stroke-width="0.12">21</text>
<text x="425.24" y="365.80" font-size="4.30" fill="#3a3a3a" text-anchor="middle" font-weight="normal" stroke="#3a3a3a" stroke-width="0.12">20</text>
<text x="468.02" y="365.80" font-size="4.30" fill="#3a3a3a" text-anchor="middle" font-weight="normal" stroke="#3a3a3a" stroke-width="0.12">7</text>
<text x="510.80" y="365.80" font-size="4.30" fill="#3a3a3a" text-anchor="middle" font-weight="normal" stroke="#3a3a3a" stroke-width="0.12">4</text>
<path d="M297.00 210.30L300.40 210.30L300.40 217.80L303.80 217.80L303.80 226.00L305.00 226.00L305.00 234.70L308.30 234.70L308.30 243.10L319.10 243.10L319.10 251.60L346.00 251.60L346.00 258.80L349.00 258.80L349.00 259.60L352.40 259.60L352.40 276.70L366.00 276.70L366.00 285.00L369.50 285.00L369.50 293.30L382.30 293.30L382.30 304.10L434.50 304.10L434.50 314.60L511.00 314.60" fill="none" stroke="#9e3a3a" stroke-width="1.30" stroke-dasharray="4.4 2.5" stroke-dashoffset="1.20"/>
<path d="M297.00 210.30L319.50 210.30L319.50 220.30L341.00 220.30L341.00 229.00L346.00 229.00L346.00 230.30L349.00 230.30L349.00 239.60L358.50 239.60L358.50 249.20L363.00 249.20L363.00 259.00L374.00 259.00L374.00 269.20L378.00 269.20L378.00 280.20L431.80 280.20L431.80 291.90L491.10 291.90" fill="none" stroke="#3a3a94" stroke-width="1.30" stroke-dasharray="3.1 2.5" stroke-dashoffset="1.70"/>
<path d="M297.00 210.30L319.70 210.30L319.70 228.10L511.00 228.10" fill="none" stroke="#5e6e48" stroke-width="1.30" stroke-dasharray="7.3 2.1" stroke-dashoffset="1.60"/>
<rect x="295.60" y="208.00" width="216.60" height="162.50" fill="none" stroke="#2a2a2a" stroke-width="1.42"/>
<text x="428.80" y="225.40" font-size="7.90" fill="#667c50" text-anchor="start" font-weight="normal" textLength="14.40" lengthAdjust="spacingAndGlyphs" stroke="#667c50" stroke-width="0.18">PH+</text>
<text x="390.20" y="277.50" font-size="7.90" fill="#32328e" text-anchor="start" font-weight="normal" textLength="71.00" lengthAdjust="spacingAndGlyphs" stroke="#32328e" stroke-width="0.18">Extreme hypodiploidy</text>
<text x="377.60" y="312.70" font-size="8.20" fill="#a23c3c" text-anchor="start" font-weight="normal" textLength="52.80" lengthAdjust="spacingAndGlyphs" stroke="#a23c3c" stroke-width="0.18">Induction failure</text>
<text x="409.60" y="349.20" font-size="7.70" fill="#1a1a1a" text-anchor="start" font-weight="normal" textLength="73.00" lengthAdjust="spacingAndGlyphs" stroke="#1a1a1a" stroke-width="0.20">p for difference=0.06</text>
<text x="342.60" y="395.90" font-size="10.20" fill="#141414" text-anchor="start" font-weight="normal" textLength="122.80" lengthAdjust="spacingAndGlyphs" stroke="#141414" stroke-width="0.45">Time since transplant (days)</text>
<text transform="translate(274.60 352.50) rotate(-90)" font-size="9.9" fill="#1a1a1a" stroke="#1a1a1a" stroke-width="0.28" textLength="127.70" lengthAdjust="spacingAndGlyphs">Event-free survival probability</text>
</svg>
</body></html>
